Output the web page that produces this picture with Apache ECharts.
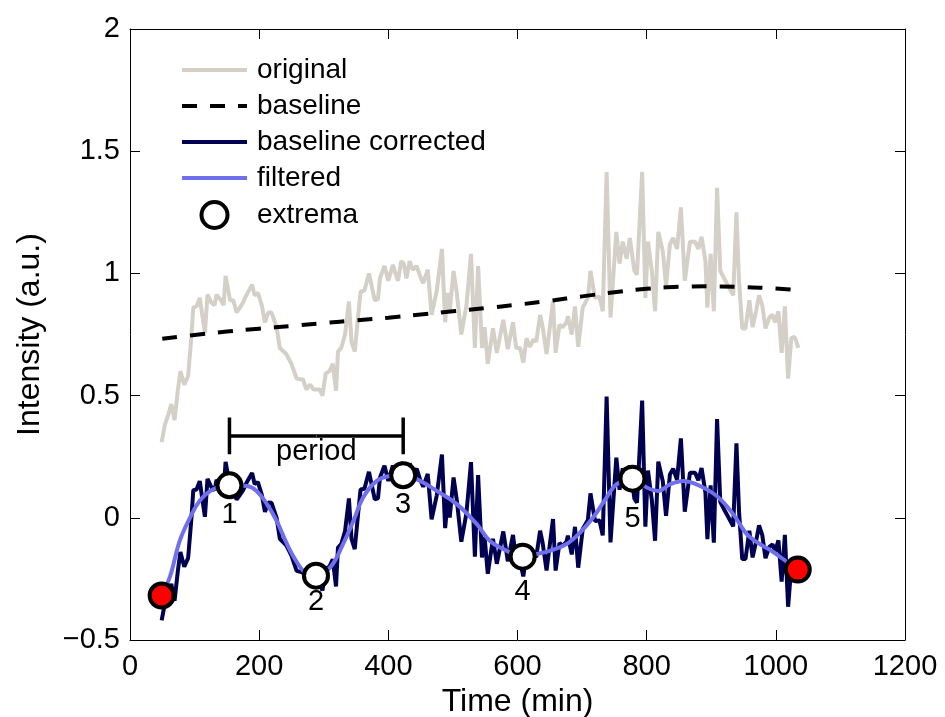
<!DOCTYPE html>
<html><head><meta charset="utf-8">
<script src="https://cdn.jsdelivr.net/npm/echarts@6/dist/echarts.min.js"></script>
<style>html,body{margin:0;padding:0;background:#fff}#c{width:945px;height:717px}</style>
</head><body><div id="c"></div>
<script>
// ---- data ----
const timeMin = [49,54,59,64,69,74,78,84,90,95,98,103,108,116,120,126,131,134,141,145,148,155,160,165,170,175,180,189,193,198,204,209,214,219,227,232,242,250,258,268,273,279,284,294,298,303,309,314,319,322,327,333,339,343,348,353,357,363,370,379,384,387,394,400,407,411,415,420,424,428,433,438,444,449,454,461,467,475,483,488,492,495,501,506,513,521,528,534,539,545,549,554,562,568,578,585,593,598,604,609,614,619,625,629,635,639,645,655,659,665,670,676,678,684,689,694,701,709,713,720,727,732,738,744,753,758,763,769,774,781,785,793,798,802,808,813,818,825,830,836,841,847,853,859,867,875,880,885,891,894,899,904,909,914,921,928,934,939,943,948,953,959,964,969,974,979,984,990,995,999,1004,1009,1014,1019,1024,1029,1035];
const originalVals = [0.31,0.38,0.42,0.465,0.40,0.52,0.60,0.545,0.58,0.74,0.86,0.865,0.90,0.756,0.913,0.88,0.87,0.913,0.89,0.87,0.99,0.89,0.89,0.84,0.86,0.88,0.91,0.954,0.91,0.92,0.87,0.80,0.84,0.84,0.78,0.695,0.67,0.63,0.57,0.565,0.525,0.545,0.525,0.525,0.50,0.59,0.60,0.63,0.52,0.68,0.695,0.75,0.885,0.72,0.68,0.82,0.925,0.93,1.00,0.89,0.895,0.98,1.03,0.97,1.035,1.00,0.97,1.05,1.04,0.98,1.05,1.015,1.03,0.99,0.96,1.015,0.83,0.93,1.10,0.80,0.92,0.845,1.01,0.92,0.75,0.87,1.08,0.695,1.03,0.695,0.78,0.63,0.775,0.675,0.81,0.69,0.80,0.695,0.695,0.635,0.735,0.70,0.73,0.72,0.83,0.78,0.67,0.885,0.675,0.79,0.78,0.80,0.825,0.75,0.865,0.70,0.86,0.90,1.01,0.90,0.905,0.845,1.415,0.82,1.17,1.04,1.13,1.06,1.145,1.01,0.995,1.415,0.90,1.13,1.01,0.845,1.17,1.09,0.95,1.12,1.145,1.10,1.27,0.97,1.13,1.13,1.10,1.15,1.05,0.86,1.08,0.845,1.35,1.01,0.975,0.94,0.91,1.25,0.97,0.775,0.775,0.89,0.78,0.84,0.91,0.87,0.775,0.82,0.83,0.80,0.845,0.675,0.865,0.57,0.735,0.74,0.695];
const correctedVals = [-0.42,-0.35,-0.32,-0.27,-0.34,-0.22,-0.14,-0.20,-0.165,-0.006,0.113,0.116,0.15,0.004,0.159,0.125,0.113,0.155,0.13,0.109,0.229,0.127,0.126,0.074,0.093,0.112,0.141,0.183,0.138,0.146,0.095,0.024,0.063,0.062,0.0,-0.086,-0.113,-0.155,-0.217,-0.224,-0.266,-0.247,-0.268,-0.271,-0.297,-0.208,-0.199,-0.17,-0.281,-0.122,-0.108,-0.054,0.079,-0.086,-0.128,0.011,0.116,0.119,0.188,0.076,0.08,0.164,0.213,0.151,0.214,0.178,0.147,0.226,0.215,0.154,0.223,0.186,0.20,0.158,0.127,0.18,-0.006,0.092,0.259,-0.042,0.077,0.001,0.165,0.073,-0.098,0.02,0.228,-0.159,0.175,-0.162,-0.078,-0.229,-0.086,-0.188,-0.056,-0.178,-0.07,-0.176,-0.178,-0.24,-0.141,-0.178,-0.15,-0.161,-0.053,-0.104,-0.216,-0.005,-0.216,-0.103,-0.115,-0.097,-0.073,-0.15,-0.037,-0.204,-0.046,-0.009,0.10,-0.013,-0.011,-0.072,0.496,-0.101,0.246,0.115,0.203,0.132,0.215,0.078,0.062,0.48,-0.036,0.193,0.072,-0.094,0.23,0.149,0.008,0.177,0.201,0.155,0.325,0.025,0.184,0.184,0.154,0.204,0.103,-0.087,0.133,-0.102,0.404,0.064,0.029,-0.005,-0.035,0.305,0.026,-0.169,-0.169,-0.053,-0.162,-0.102,-0.031,-0.071,-0.165,-0.119,-0.109,-0.138,-0.092,-0.261,-0.07,-0.364,-0.198,-0.192,-0.236];
const baselineTime = [50,100,150,200,250,300,350,400,450,500,550,600,650,700,750,800,850,900,950,1000,1035];
const baselineVals = [0.733,0.748,0.762,0.774,0.785,0.797,0.808,0.819,0.832,0.845,0.858,0.872,0.888,0.906,0.923,0.937,0.945,0.947,0.944,0.938,0.931];
const filteredTime = [49,62,77,93,108,129,154,181,196,212,227,243,258,274,288,310,330,346,361,382,403,423,449,475,506,537,557,578,599,608,630,650,676,697,717,738,753,778,800,818,836,857,877,908,934,955,975,996,1017,1034];
const filteredVals = [-0.318,-0.24,-0.094,0.001,0.07,0.117,0.133,0.13,0.11,0.056,-0.012,-0.107,-0.18,-0.23,-0.237,-0.203,-0.107,-0.012,0.083,0.151,0.171,0.174,0.151,0.11,0.056,-0.026,-0.094,-0.128,-0.155,-0.159,-0.148,-0.135,-0.107,-0.06,0.001,0.083,0.137,0.16,0.124,0.11,0.137,0.151,0.137,0.09,0.015,-0.067,-0.107,-0.14,-0.18,-0.212];
const extremaTime = [154,288,423,608,778];
const extremaVals = [0.133,-0.237,0.174,-0.159,0.16];
const extremaLabels = ['1','2','3','4','5'];
const endTime = [49,1034];
const endVals = [-0.318,-0.212];
const periodLevel = 0.335, periodCapTop = 0.41, periodCapBottom = 0.26;
const periodText = 'period';
const xTicks = [0,200,400,600,800,1000,1200];
const yTicks = [-0.5,0,0.5,1,1.5,2];

// ---- styles ----
const FONT = '"Liberation Sans", Arial, Helvetica, sans-serif';
const labelGaps = [1,-2,1,7,12];
const pair = (xs, ys) => xs.map((x, i) => [x, ys[i]]);

const chart = echarts.init(document.getElementById('c'), null, {renderer: 'canvas'});
const axLine = {onZero: false, lineStyle: {color: '#000', width: 1}};
const axTick = {inside: true, length: 10, lineStyle: {color: '#000', width: 1}};
const lbl = {fontSize: 29, color: '#000', fontFamily: FONT};
const noSym = {opacity: 0};

const x1 = extremaTime[0], x3 = extremaTime[2];
const bracket = [[x1, periodCapTop], [x1, periodCapBottom], [x1, periodLevel], [x3, periodLevel], [x3, periodCapTop], [x3, periodCapBottom]];

chart.setOption({
  animation: false,
  backgroundColor: '#fff',
  grid: {left: 130, right: 40, top: 29, bottom: 77, containLabel: false, outerBoundsMode: 'none'},
  xAxis: [
    {type: 'value', min: xTicks[0], max: xTicks[xTicks.length - 1], interval: 200, position: 'bottom',
     name: 'Time (min)', nameLocation: 'middle', nameGap: 31,
     nameTextStyle: {fontSize: 32, color: '#000', fontFamily: FONT},
     axisLine: axLine, axisTick: axTick,
     axisLabel: Object.assign({margin: 12, formatter: v => String(v)}, lbl), splitLine: {show: false}},
    {type: 'value', min: xTicks[0], max: xTicks[xTicks.length - 1], interval: 200, position: 'top',
     axisLine: axLine, axisTick: axTick, axisLabel: {show: false}, splitLine: {show: false}}
  ],
  yAxis: [
    {type: 'value', min: yTicks[0], max: yTicks[yTicks.length - 1], interval: 0.5, position: 'left',
     name: 'Intensity (a.u.)', nameLocation: 'middle', nameGap: 84,
     nameTextStyle: {fontSize: 32, color: '#000', fontFamily: FONT},
     axisLine: axLine, axisTick: axTick,
     axisLabel: Object.assign({margin: 10, formatter: v => v < 0 ? '\u2212' + Math.abs(v) : String(v)}, lbl),
     splitLine: {show: false}},
    {type: 'value', min: yTicks[0], max: yTicks[yTicks.length - 1], interval: 0.5, position: 'right',
     axisLine: axLine, axisTick: axTick, axisLabel: {show: false}, splitLine: {show: false}}
  ],
  legend: {
    data: [
      {name: 'original', itemStyle: noSym},
      {name: 'baseline', itemStyle: noSym},
      {name: 'baseline corrected', itemStyle: noSym},
      {name: 'filtered', itemStyle: noSym},
      {name: 'extrema', itemStyle: {borderWidth: 4}}
    ],
    orient: 'vertical', left: 180, top: 56, padding: 0,
    itemWidth: 65, itemHeight: 26, itemGap: 8,
    lineStyle: {width: 4},
    textStyle: {fontSize: 28, color: '#000', fontFamily: FONT, padding: [0, 0, 0, 5]}
  },
  series: [
    {name: 'original', type: 'line', data: pair(timeMin, originalVals), symbol: 'none',
     lineStyle: {color: '#d4d0c8', width: 4}, itemStyle: {color: '#d4d0c8'}},
    {name: 'baseline', type: 'line', data: pair(baselineTime, baselineVals), symbol: 'none', smooth: true,
     lineStyle: {color: '#000', width: 4, type: [15, 13]}, itemStyle: {color: '#000'}},
    {name: 'baseline corrected', type: 'line', data: pair(timeMin, correctedVals), symbol: 'none',
     lineStyle: {color: '#000050', width: 4}, itemStyle: {color: '#000050'}},
    {name: 'filtered', type: 'line', data: pair(filteredTime, filteredVals), symbol: 'none', smooth: 0.4,
     lineStyle: {color: '#7070ee', width: 4}, itemStyle: {color: '#7070ee'}},
    {name: 'period', type: 'line', data: bracket, symbol: 'none',
     lineStyle: {color: '#000', width: 3.5}},
    {name: 'periodText', type: 'scatter', symbol: 'circle', symbolSize: 1, z: 6,
     itemStyle: {color: '#fff', opacity: 1},
     data: [{value: [(x1 + x3) / 2, periodLevel],
       label: {show: true, position: 'bottom', distance: 1, formatter: periodText,
               fontSize: 29, color: '#000', opacity: 1, fontFamily: FONT, textBorderWidth: 0}}]},
    {name: 'extrema', type: 'scatter', symbol: 'circle', symbolSize: 24, z: 5,
     data: extremaTime.map((t, i) => ({value: [t, extremaVals[i]],
       label: {show: true, position: 'bottom', distance: labelGaps[i], formatter: extremaLabels[i]}})),
     itemStyle: {color: '#fff', borderColor: '#000', borderWidth: 4, opacity: 1},
     label: {fontSize: 29, color: '#000', fontFamily: FONT}},
    {name: 'ends', type: 'scatter', symbol: 'circle', symbolSize: 24, z: 5,
     data: pair(endTime, endVals),
     itemStyle: {color: '#ff0000', borderColor: '#000', borderWidth: 4, opacity: 1}}
  ]
});
</script></body></html>
